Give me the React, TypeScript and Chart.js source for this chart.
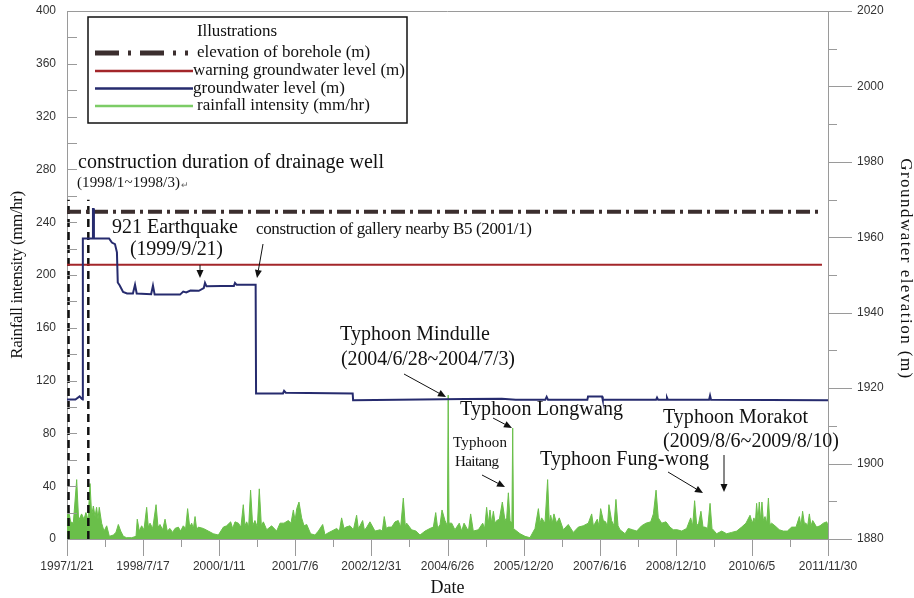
import React, { useEffect, useRef } from 'react';
import { Chart, registerables } from 'chart.js';

Chart.register(...registerables);

// ---------------- DATA ----------------
const xTickLabels = ['1997/1/21', '1998/7/17', '2000/1/11', '2001/7/6', '2002/12/31', '2004/6/26', '2005/12/20', '2007/6/16', '2008/12/10', '2010/6/5', '2011/11/30'];
const leftMin = 0, leftMax = 400, leftStep = 40;          // rainfall intensity (mm/hr)
const rightMin = 1880, rightMax = 2020, rightStep = 20;    // groundwater elevation (m)

// rainfall intensity: [days since 1997/1/21, mm/hr]
const rainfall: [number, number][] = [
  [0, 13], [9, 23], [26, 13], [45, 12], [69, 45], [83, 14], [104, 19], [121, 15], [135, 20], [150, 14], [164, 42], [176, 18], [188, 25], [200, 17], [211, 24], [221, 15], [230, 24], [247, 12], [264, 6], [283, 10], [302, 2], [330, 3], [349, 5], [366, 11], [383, 6], [402, 2], [425, 1], [461, 1], [492, 2], [501, 15], [516, 6], [532, 10], [549, 7], [568, 24], [580, 9], [592, 12], [611, 8], [635, 26], [649, 9], [663, 11], [682, 7], [699, 15], [715, 6], [734, 8], [753, 5], [770, 8], [794, 9], [810, 6], [829, 10], [846, 8], [860, 23], [875, 9], [889, 12], [901, 8], [913, 17], [925, 7], [936, 9], [972, 8], [1008, 6], [1043, 4], [1079, 3], [1115, 9], [1138, 10], [1167, 13], [1181, 8], [1198, 13], [1222, 12], [1240, 9], [1257, 26], [1269, 10], [1281, 13], [1295, 9], [1309, 37], [1324, 10], [1340, 14], [1357, 9], [1371, 38], [1386, 10], [1400, 13], [1424, 7], [1459, 10], [1495, 6], [1519, 12], [1547, 12], [1578, 14], [1597, 12], [1614, 22], [1626, 14], [1638, 23], [1654, 28], [1673, 16], [1690, 10], [1709, 11], [1737, 4], [1768, 3], [1792, 6], [1823, 11], [1840, 3], [1851, 4], [1887, 6], [1923, 8], [1942, 6], [1958, 16], [1975, 8], [1989, 9], [2018, 10], [2042, 7], [2065, 18], [2077, 8], [2089, 10], [2108, 14], [2120, 7], [2132, 8], [2160, 13], [2196, 6], [2232, 7], [2248, 6], [2262, 17], [2277, 8], [2291, 9], [2315, 9], [2339, 13], [2362, 14], [2379, 9], [2398, 31], [2412, 10], [2422, 12], [2457, 7], [2488, 6], [2517, 3], [2553, 6], [2588, 8], [2612, 9], [2629, 20], [2643, 8], [2660, 11], [2674, 22], [2695, 14], [2712, 10], [2718, 109], [2724, 12], [2743, 12], [2766, 7], [2797, 12], [2814, 6], [2831, 12], [2862, 6], [2878, 19], [2897, 6], [2933, 7], [2964, 12], [2978, 8], [2992, 24], [3004, 12], [3016, 22], [3028, 12], [3040, 21], [3052, 12], [3064, 14], [3083, 15], [3104, 28], [3123, 14], [3135, 16], [3147, 35], [3159, 14], [3172, 12], [3178, 84], [3184, 8], [3194, 7], [3230, 4], [3266, 2], [3301, 1], [3337, 8], [3361, 23], [3373, 12], [3384, 16], [3408, 12], [3427, 45], [3439, 12], [3449, 18], [3460, 12], [3472, 19], [3491, 12], [3510, 16], [3539, 7], [3574, 11], [3610, 5], [3646, 9], [3681, 10], [3717, 12], [3741, 19], [3753, 10], [3765, 12], [3781, 15], [3793, 10], [3805, 23], [3824, 14], [3841, 13], [3853, 9], [3864, 26], [3883, 14], [3900, 10], [3914, 30], [3929, 10], [3943, 7], [3979, 4], [4002, 8], [4033, 7], [4062, 6], [4097, 10], [4128, 12], [4162, 13], [4181, 19], [4200, 37], [4216, 16], [4240, 12], [4271, 13], [4299, 9], [4323, 7], [4352, 7], [4383, 6], [4418, 8], [4447, 16], [4461, 10], [4475, 29], [4490, 10], [4504, 12], [4520, 21], [4535, 9], [4549, 9], [4568, 8], [4585, 27], [4599, 8], [4632, 4], [4668, 6], [4703, 4], [4739, 5], [4775, 6], [4810, 9], [4841, 12], [4870, 18], [4886, 12], [4898, 16], [4908, 12], [4917, 27], [4927, 14], [4936, 28], [4946, 14], [4955, 28], [4965, 14], [4977, 17], [4989, 12], [5001, 31], [5012, 11], [5024, 12], [5048, 10], [5079, 7], [5107, 6], [5136, 6], [5167, 9], [5198, 9], [5222, 17], [5233, 10], [5245, 21], [5257, 12], [5269, 12], [5281, 10], [5293, 19], [5305, 10], [5317, 14], [5345, 9], [5369, 10], [5393, 12], [5417, 13], [5426, 10],
];

// groundwater level: [days since 1997/1/21, elevation m]
const groundwater: [number, number][] = [
  [0, 1917], [60, 1917], [90, 1917.8], [105, 1917.2], [112, 1917], [113, 1959.7], [183, 1959.7], [185, 1967.5], [190, 1967.5], [192, 1959.7], [300, 1959.7], [320, 1958.6], [342, 1958.2], [356, 1956], [362, 1948], [375, 1947.3], [400, 1945.5], [428, 1945.1], [470, 1945.1], [485, 1947.4], [497, 1945.1], [600, 1944.9], [613, 1947.2], [625, 1944.8], [806, 1944.8], [829, 1945.6], [850, 1945.4], [880, 1945.9], [940, 1945.8], [975, 1946.5], [984, 1947.9], [995, 1947.0], [1100, 1947.1], [1190, 1947.1], [1198, 1947.9], [1210, 1947.4], [1345, 1947.4], [1348, 1918.6], [1540, 1918.6], [1548, 1919.3], [1560, 1918.8], [2037, 1918.6], [2040, 1916.8], [2840, 1917.1], [3100, 1917.2], [3200, 1916.9], [3410, 1916.9], [3420, 1917.7], [3430, 1916.9], [3710, 1916.9], [3715, 1917.8], [3815, 1917.8], [3820, 1916.9], [4200, 1916.9], [4207, 1917.5], [4215, 1916.9], [4272, 1916.9], [4278, 1917.5], [4285, 1916.9], [4578, 1916.9], [4585, 1918], [4592, 1916.9], [5426, 1916.8],
];

const warningLevel = 1952.7;       // m
const boreholeElevation = 1966.8;  // m
const referenceLineEndDay = 5383;
const drainageDays = [11, 152];    // dashed markers of drainage-well construction
const drainageTop = 257;           // mm/hr axis units

// ---------------- STYLE ----------------
const SERIF = '"Liberation Serif", "Times New Roman", serif';
const SANS = '"Liberation Sans", Arial, sans-serif';
const AXIS = '#9a9a9a';
const GREEN = '#6abf4a';
const BLUE = '#262b6e';
const RED = '#a3262a';
const BORE = '#3b2e2e';

const dayOf = (s: string) => {
  const [y, m, d] = s.split('/').map(Number);
  const [y0, m0, d0] = xTickLabels[0].split('/').map(Number);
  return Math.round((Date.UTC(y, m - 1, d) - Date.UTC(y0, m0 - 1, d0)) / 86400000);
};
const majorDays = xTickLabels.map(dayOf);
const tickDays: number[] = [];
majorDays.forEach((d, i) => {
  tickDays.push(d);
  if (i < majorDays.length - 1) tickDays.push((d + majorDays[i + 1]) / 2);
});

type Note = { text: string; x: number; y: number; size: number; w?: number };
const notes: Note[] = [
  { text: 'construction duration of drainage well', x: 78, y: 163, size: 20, w: 306 },
  { text: '(1998/1~1998/3)', x: 77, y: 183, size: 15, w: 103 },
  { text: '921 Earthquake', x: 112, y: 228, size: 20, w: 126 },
  { text: '(1999/9/21)', x: 130, y: 250, size: 20, w: 93 },
  { text: 'construction of gallery nearby B5 (2001/1)', x: 256, y: 230, size: 17, w: 276 },
  { text: 'Typhoon Mindulle', x: 340, y: 335, size: 20, w: 150 },
  { text: '(2004/6/28~2004/7/3)', x: 341, y: 360, size: 20, w: 174 },
  { text: 'Typhoon Longwang', x: 460, y: 410, size: 20, w: 163 },
  { text: 'Typhoon', x: 453, y: 443, size: 15, w: 54 },
  { text: 'Haitang', x: 455, y: 462, size: 15, w: 44 },
  { text: 'Typhoon Morakot', x: 663, y: 418, size: 20, w: 145 },
  { text: '(2009/8/6~2009/8/10)', x: 663, y: 442, size: 20, w: 176 },
  { text: 'Typhoon Fung-wong', x: 540, y: 460, size: 20, w: 169 },
];
const arrows: [number, number, number, number][] = [
  [200, 265, 200, 278],
  [263, 244, 257, 278],
  [404, 374, 446, 397],
  [493, 418, 512, 428],
  [482, 475, 505, 487],
  [668, 472, 703, 493],
  [724, 455, 724, 492],
];

function drawText(ctx: CanvasRenderingContext2D, text: string, x: number, y: number, size: number, w?: number, align: CanvasTextAlign = 'left') {
  ctx.font = `${size}px ${SERIF}`;
  (ctx as any).letterSpacing = '0px';
  if (w) {
    const m = ctx.measureText(text).width;
    const ls = (w - m) / Math.max(1, text.length - 1);
    (ctx as any).letterSpacing = `${ls}px`;
  }
  ctx.textAlign = align;
  ctx.textBaseline = 'middle';
  ctx.fillText(text, x, y);
  (ctx as any).letterSpacing = '0px';
}

function seg(ctx: CanvasRenderingContext2D, x1: number, y1: number, x2: number, y2: number) {
  ctx.beginPath();
  ctx.moveTo(x1, y1);
  ctx.lineTo(x2, y2);
  ctx.stroke();
}

const decorPlugin = {
  id: 'decor',
  afterDraw(chart: any) {
    const { ctx, chartArea: a, scales } = chart;
    const xs = scales.x, yl = scales.yL, yr = scales.yR;
    ctx.save();
    ctx.strokeStyle = AXIS;
    ctx.lineWidth = 1;
    // top frame
    seg(ctx, a.left, a.top + 0.5, a.right, a.top + 0.5);
    // left ticks (inside)
    for (let v = leftMin; v <= leftMax; v += leftStep / 2) {
      const py = Math.round(yl.getPixelForValue(v)) + 0.5;
      seg(ctx, a.left, py, a.left + 10, py);
    }
    // right ticks (outside)
    for (let v = rightMin; v <= rightMax; v += rightStep / 2) {
      const py = Math.round(yr.getPixelForValue(v)) + 0.5;
      const major = (v - rightMin) % rightStep === 0;
      seg(ctx, a.right, py, a.right + (major ? 24 : 9), py);
    }
    // bottom ticks (outside)
    tickDays.forEach((d, i) => {
      const px = Math.round(xs.getPixelForValue(d)) + 0.5;
      seg(ctx, px, a.bottom, px, a.bottom + (i % 2 === 0 ? 17 : 8));
    });

    // axis titles
    ctx.fillStyle = '#111';
    ctx.save();
    ctx.translate(18, (a.top + a.bottom) / 2);
    ctx.rotate(-Math.PI / 2);
    drawText(ctx, 'Rainfall intensity (mm/hr)', 0, 0, 17, 168, 'center');
    ctx.restore();
    ctx.save();
    ctx.translate(905, (a.top + a.bottom) / 2 - 6);
    ctx.rotate(Math.PI / 2);
    drawText(ctx, 'Groundwater elevation (m)', 0, 0, 17, 220, 'center');
    ctx.restore();
    drawText(ctx, 'Date', (a.left + a.right) / 2, 588, 18, undefined, 'center');

    // legend box
    ctx.fillStyle = '#fff';
    ctx.fillRect(88, 17, 319, 106);
    ctx.strokeStyle = '#111';
    ctx.lineWidth = 1.5;
    ctx.strokeRect(88, 17, 319, 106);
    ctx.fillStyle = '#111';
    drawText(ctx, 'Illustrations', 197, 32, 17, 80);
    const items = [
      { t: 'elevation of borehole (m)', c: BORE, lw: 5, dash: [24, 9, 3, 9], tx: 197, y: 53 },
      { t: 'warning groundwater level (m)', c: RED, lw: 2.5, dash: [], tx: 193, y: 71 },
      { t: 'groundwater level (m)', c: BLUE, lw: 2.5, dash: [], tx: 193, y: 88.5 },
      { t: 'rainfall intensity (mm/hr)', c: '#7ccc66', lw: 2.5, dash: [], tx: 197, y: 106 },
    ];
    items.forEach((it) => {
      ctx.strokeStyle = it.c;
      ctx.lineWidth = it.lw;
      ctx.setLineDash(it.dash);
      seg(ctx, 95, it.y, it.dash.length ? 188 : 193, it.y);
      ctx.setLineDash([]);
      ctx.fillStyle = '#111';
      drawText(ctx, it.t, it.tx, it.y, 17);
    });

    // annotations
    ctx.fillStyle = '#111';
    notes.forEach((n) => drawText(ctx, n.text, n.x, n.y, n.size, n.w));
    ctx.font = `9px ${SERIF}`;
    ctx.fillStyle = '#666';
    ctx.textAlign = 'left';
    ctx.fillText('↵', 181, 186);

    ctx.strokeStyle = '#111';
    ctx.fillStyle = '#111';
    ctx.lineWidth = 1;
    arrows.forEach(([x1, y1, x2, y2]) => {
      const ang = Math.atan2(y2 - y1, x2 - x1);
      const L = 8, W = 3.5;
      const bx = x2 - L * Math.cos(ang), by = y2 - L * Math.sin(ang);
      seg(ctx, x1, y1, bx, by);
      ctx.beginPath();
      ctx.moveTo(x2, y2);
      ctx.lineTo(bx + W * Math.sin(ang), by - W * Math.cos(ang));
      ctx.lineTo(bx - W * Math.sin(ang), by + W * Math.cos(ang));
      ctx.closePath();
      ctx.fill();
    });
    ctx.restore();
  },
};

export default function App() {
  const ref = useRef<HTMLCanvasElement>(null);
  useEffect(() => {
    const pts = (arr: [number, number][]) => arr.map(([x, y]) => ({ x, y }));
    const chart = new Chart(ref.current as HTMLCanvasElement, {
      type: 'line',
      data: {
        datasets: [
          { label: 'groundwater level (m)', data: pts(groundwater), yAxisID: 'yR', borderColor: BLUE, borderWidth: 2, pointRadius: 0, fill: false },
          { label: 'elevation of borehole (m)', data: [{ x: 0, y: boreholeElevation }, { x: referenceLineEndDay, y: boreholeElevation }], yAxisID: 'yR', borderColor: BORE, borderWidth: 4, borderDash: [14, 5, 3, 5], pointRadius: 0, fill: false },
          { label: 'warning groundwater level (m)', data: [{ x: 0, y: warningLevel }, { x: referenceLineEndDay, y: warningLevel }], yAxisID: 'yR', borderColor: RED, borderWidth: 2, pointRadius: 0, fill: false },
          ...drainageDays.map((d) => ({ label: 'drainage well', data: [{ x: d, y: 0 }, { x: d, y: drainageTop }], yAxisID: 'yL', borderColor: '#111', borderWidth: 2.5, borderDash: [8, 5], pointRadius: 0, fill: false })),
          { label: 'rainfall intensity (mm/hr)', data: pts(rainfall), yAxisID: 'yL', borderColor: GREEN, backgroundColor: GREEN, borderWidth: 1, pointRadius: 0, fill: 'origin', tension: 0 },
        ] as any,
      },
      options: {
        animation: false,
        responsive: false,
        devicePixelRatio: 1,
        layout: { padding: { top: 11, left: 0, right: 0, bottom: 0 } },
        plugins: { legend: { display: false }, tooltip: { enabled: false }, title: { display: false } },
        elements: { line: { tension: 0 } },
        scales: {
          x: {
            type: 'linear',
            min: majorDays[0],
            max: majorDays[majorDays.length - 1],
            afterBuildTicks: (s: any) => { s.ticks = tickDays.map((v) => ({ value: v })); },
            afterFit: (s: any) => { s.height = 59; s.paddingLeft = 0; s.paddingRight = 0; },
            grid: { display: false, drawTicks: false },
            border: { display: true, color: AXIS, width: 1 },
            ticks: {
              autoSkip: false, maxRotation: 0, minRotation: 0, padding: 20, color: '#333',
              font: { family: SANS, size: 12, lineHeight: 1.2 },
              callback: (_v: any, i: number) => (i % 2 === 0 ? xTickLabels[i / 2] : ''),
            },
          },
          yL: {
            type: 'linear', position: 'left', min: leftMin, max: leftMax,
            afterFit: (s: any) => { s.width = 67; s.paddingTop = 0; s.paddingBottom = 0; },
            grid: { display: false, drawTicks: false },
            border: { display: true, color: AXIS, width: 1 },
            ticks: { stepSize: leftStep, padding: 11, color: '#333', font: { family: SANS, size: 12 }, callback: (v: any) => String(v) },
          },
          yR: {
            type: 'linear', position: 'right', min: rightMin, max: rightMax,
            afterFit: (s: any) => { s.width = 86; s.paddingTop = 0; s.paddingBottom = 0; },
            grid: { display: false, drawTicks: false },
            border: { display: true, color: AXIS, width: 1 },
            ticks: { stepSize: rightStep, padding: 29, color: '#333', font: { family: SANS, size: 12 }, callback: (v: any) => String(v) },
          },
        },
      } as any,
      plugins: [decorPlugin],
    });
    return () => chart.destroy();
  }, []);
  return (
    <div style={{ position: 'fixed', left: 0, top: 0, width: 914, height: 598, background: '#fff' }}>
      <canvas ref={ref} width={914} height={598} style={{ display: 'block', width: 914, height: 598 }} />
    </div>
  );
}
